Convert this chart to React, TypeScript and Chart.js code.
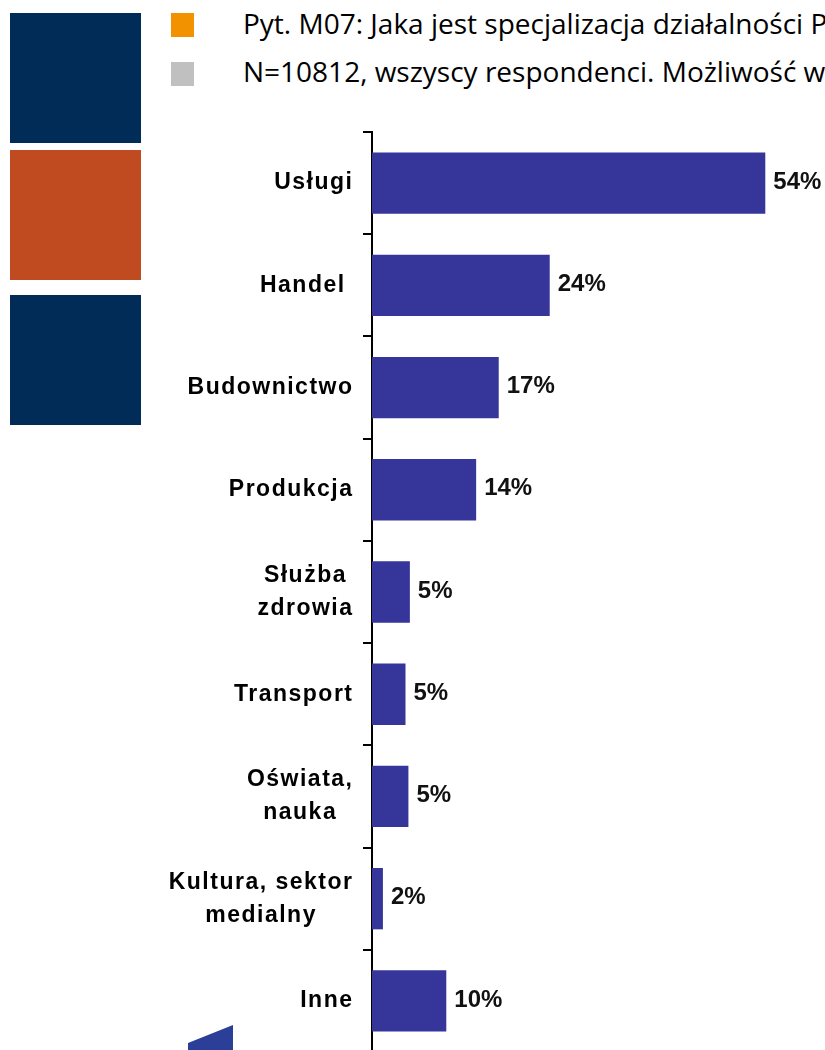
import React, { useEffect, useRef } from "react";
import { Chart, registerables } from "chart.js";

Chart.register(...registerables);

const categories: string[][] = [
  ["Usługi"],
  ["Handel "],
  ["Budownictwo"],
  ["Produkcja"],
  ["Służba", "zdrowia"],
  ["Transport"],
  ["Oświata,", "nauka"],
  ["Kultura, sektor", "medialny"],
  ["Inne"],
];
const values: number[] = [54, 24.4, 17.4, 14.3, 5.2, 4.6, 5.0, 1.5, 10.2];
const headerLines: string[] = [
  "Pyt. M07: Jaka jest specjalizacja działalności Pana/Pani firmy?",
  "N=10812, wszyscy respondenci. Możliwość wielokrotnego wyboru.",
];
const BAR_COLOR = "#35359a";

const categoryLabelPlugin = {
  id: "categoryLabels",
  afterDraw(chart: any) {
    const ctx = chart.ctx;
    const yScale = chart.scales.y;
    const labels = chart.data.labels as string[][];
    ctx.save();
    ctx.font = 'bold 23px "Liberation Sans", Arial, sans-serif';
    (ctx as any).letterSpacing = "1.5px";
    ctx.fillStyle = "#000";
    ctx.textAlign = "center";
    ctx.textBaseline = "middle";
    const lineH = 33;
    labels.forEach((lines, i) => {
      const y = yScale.getPixelForValue(i);
      const widest = Math.max(...lines.map((l) => ctx.measureText(l).width));
      const cx = 353.5 - widest / 2;
      const startY = y - ((lines.length - 1) * lineH) / 2;
      lines.forEach((l, j) => ctx.fillText(l, cx, startY + j * lineH));
    });
    ctx.restore();
  },
};

const valueLabelPlugin = {
  id: "valueLabels",
  afterDatasetsDraw(chart: any) {
    const ctx = chart.ctx;
    const meta = chart.getDatasetMeta(0);
    const data = chart.data.datasets[0].data as number[];
    ctx.save();
    ctx.font = 'bold 24px "Liberation Sans", Arial, sans-serif';
    ctx.fillStyle = "#111";
    ctx.textAlign = "left";
    ctx.textBaseline = "middle";
    meta.data.forEach((bar: any, i: number) => {
      ctx.fillText(Math.round(data[i]) + "%", bar.x + 8, bar.y - 1);
    });
    ctx.restore();
  },
};

function BarChart() {
  const ref = useRef<HTMLCanvasElement>(null);
  useEffect(() => {
    if (!ref.current) return;
    const chart = new Chart(ref.current, {
      type: "bar",
      data: {
        labels: categories as any,
        datasets: [
          {
            data: values,
            backgroundColor: BAR_COLOR,
            borderWidth: 0,
            barPercentage: 0.6,
            categoryPercentage: 1.0,
          },
        ],
      },
      options: {
        indexAxis: "y",
        responsive: false,
        animation: false,
        layout: { padding: { left: 363, top: 132, right: 16, bottom: 4 } },
        plugins: { legend: { display: false }, tooltip: { enabled: false } },
        scales: {
          x: { display: false, min: 0, max: 60 },
          y: {
            display: true,
            ticks: { display: false },
            grid: {
              drawOnChartArea: false,
              drawTicks: true,
              tickLength: 9,
              color: "#000",
              lineWidth: 2,
              offset: true,
            },
            border: { display: true, color: "#000", width: 2 },
          },
        },
      },
      plugins: [categoryLabelPlugin, valueLabelPlugin],
    });
    return () => chart.destroy();
  }, []);
  return (
    <canvas
      ref={ref}
      width={825}
      height={1056}
      style={{ position: "absolute", left: 0, top: 0, width: 825, height: 1056 }}
    />
  );
}

export default function App() {
  const textStyle: React.CSSProperties = {
    position: "absolute",
    left: 243,
    whiteSpace: "nowrap",
    fontFamily: '"Open Sans", Lato, sans-serif',
    fontSize: 28,
    color: "#000",
    lineHeight: "32px",
  };
  return (
    <div
      style={{
        position: "absolute",
        left: 0,
        top: 0,
        width: 825,
        height: 1050,
        overflow: "hidden",
        background: "#fff",
      }}
    >
      <div style={{ position: "absolute", left: 10, top: 13, width: 131, height: 130, background: "#002c57" }} />
      <div style={{ position: "absolute", left: 10, top: 150, width: 131, height: 130, background: "#c04b20" }} />
      <div style={{ position: "absolute", left: 10, top: 295, width: 131, height: 130, background: "#002c57" }} />
      <div style={{ position: "absolute", left: 171, top: 13, width: 23, height: 24, background: "#f39200" }} />
      <div style={{ position: "absolute", left: 171, top: 62, width: 23, height: 24, background: "#c0c0c0" }} />
      <div style={{ ...textStyle, top: 7 }}>{headerLines[0]}</div>
      <div style={{ ...textStyle, top: 55 }}>{headerLines[1]}</div>
      <div
        style={{
          position: "absolute",
          left: 188,
          top: 1025,
          width: 45,
          height: 25,
          background: "#2b3e98",
          clipPath: "polygon(0% 72%, 100% 0%, 100% 100%, 0% 100%)",
        }}
      />
      <BarChart />
    </div>
  );
}
